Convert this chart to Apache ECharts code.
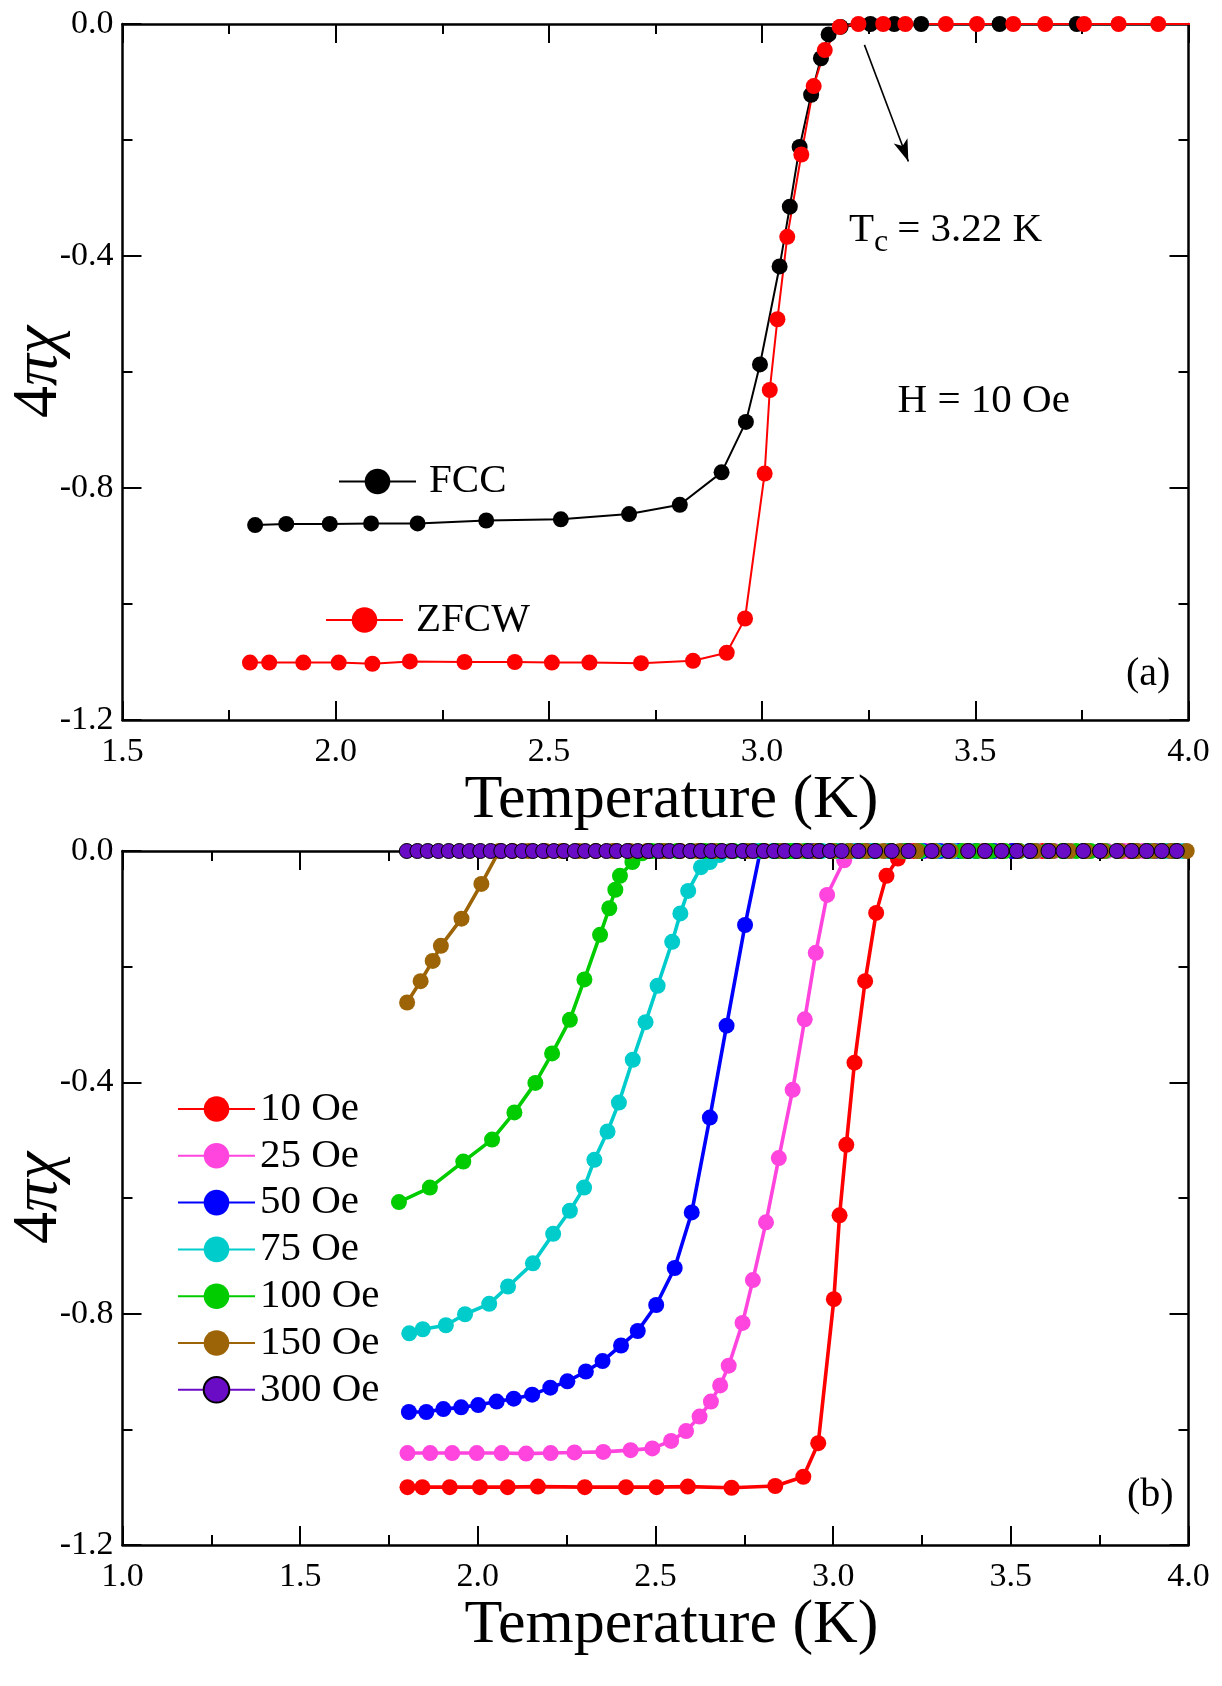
<!DOCTYPE html>
<html><head><meta charset="utf-8">
<script src="https://cdn.jsdelivr.net/npm/echarts@6/dist/echarts.min.js"></script>
<style>html,body{margin:0;padding:0;background:#fff}#c{width:1222px;height:1686px}</style>
</head><body><div id="c"></div><script>
// ---------------- DATA ----------------
// Panel (a): H = 10 Oe
const fcc = [[1.811,-0.864],[1.884,-0.862],[1.986,-0.862],[2.083,-0.861],[2.192,-0.861],[2.353,-0.856],[2.528,-0.854],[2.688,-0.845],[2.807,-0.829],[2.905,-0.773],[2.962,-0.686],[2.995,-0.587],[3.041,-0.418],[3.065,-0.315],[3.088,-0.212],[3.115,-0.122],[3.138,-0.059],[3.156,-0.018],[3.184,-0.005],[3.254,0],[3.310,0],[3.373,0],[3.557,0],[3.738,0]];
const zfcw = [[1.799,-1.101],[1.844,-1.101],[1.924,-1.101],[2.007,-1.101],[2.086,-1.103],[2.174,-1.099],[2.302,-1.100],[2.420,-1.100],[2.507,-1.101],[2.595,-1.101],[2.716,-1.102],[2.838,-1.098],[2.917,-1.084],[2.960,-1.025],[3.006,-0.775],[3.018,-0.631],[3.036,-0.509],[3.059,-0.367],[3.092,-0.225],[3.121,-0.107],[3.147,-0.045],[3.182,-0.005],[3.226,0],[3.284,0],[3.336,0],[3.431,0],[3.504,0],[3.589,0],[3.664,0],[3.755,0],[3.836,0],[3.929,0],[4.02,0]];
// Panel (b): ZFCW at several fields
const oe10 = [[1.802,-1.100],[1.844,-1.100],[1.921,-1.100],[2.006,-1.100],[2.084,-1.100],[2.169,-1.099],[2.301,-1.100],[2.417,-1.100],[2.503,-1.100],[2.591,-1.099],[2.714,-1.101],[2.837,-1.098],[2.916,-1.082],[2.958,-1.024],[3.002,-0.775],[3.018,-0.630],[3.037,-0.508],[3.060,-0.366],[3.090,-0.225],[3.121,-0.107],[3.150,-0.043],[3.182,-0.013],[3.226,0],[3.284,0],[3.336,0],[3.431,0],[3.504,0],[3.589,0],[3.664,0],[3.755,0],[3.836,0],[3.929,0],[4.02,0]];
const oe25 = [[1.802,-1.041],[1.866,-1.041],[1.928,-1.041],[1.997,-1.041],[2.067,-1.041],[2.136,-1.042],[2.205,-1.041],[2.272,-1.040],[2.353,-1.039],[2.430,-1.036],[2.491,-1.033],[2.544,-1.020],[2.586,-1.003],[2.624,-0.978],[2.656,-0.952],[2.682,-0.924],[2.706,-0.890],[2.745,-0.816],[2.774,-0.742],[2.811,-0.642],[2.847,-0.531],[2.886,-0.413],[2.920,-0.291],[2.951,-0.176],[2.983,-0.076],[3.031,-0.016],[3.066,0],[3.112,0],[3.160,0],[3.214,0],[3.262,0],[3.318,0],[3.366,0],[3.421,0],[3.468,0],[3.520,0],[3.571,0],[3.622,0],[3.668,0],[3.720,0],[3.771,0],[3.818,0],[3.872,0],[3.920,0],[3.970,0]];
const oe50 = [[1.806,-0.970],[1.855,-0.970],[1.903,-0.965],[1.953,-0.962],[2.001,-0.958],[2.053,-0.952],[2.101,-0.947],[2.153,-0.940],[2.204,-0.928],[2.252,-0.917],[2.304,-0.900],[2.351,-0.882],[2.403,-0.855],[2.450,-0.830],[2.502,-0.785],[2.554,-0.721],[2.602,-0.625],[2.653,-0.461],[2.700,-0.302],[2.752,-0.128],[2.795,0],[2.842,0],[2.893,0],[2.944,0],[2.996,0],[3.046,0],[3.097,0],[3.150,0],[3.199,0],[3.252,0],[3.300,0],[3.353,0],[3.402,0],[3.452,0],[3.505,0],[3.553,0],[3.604,0],[3.654,0],[3.705,0],[3.752,0],[3.806,0],[3.853,0],[3.905,0],[3.953,0]];
const oe75 = [[1.807,-0.834],[1.845,-0.827],[1.910,-0.820],[1.964,-0.801],[2.032,-0.783],[2.085,-0.753],[2.155,-0.713],[2.212,-0.662],[2.259,-0.622],[2.299,-0.582],[2.328,-0.534],[2.365,-0.485],[2.397,-0.435],[2.436,-0.361],[2.472,-0.296],[2.506,-0.233],[2.547,-0.157],[2.570,-0.108],[2.592,-0.069],[2.628,-0.028],[2.653,-0.019],[2.680,-0.007],[2.710,0],[2.745,0],[2.789,0],[2.830,0],[2.878,0],[2.920,0],[2.968,0],[3.012,0],[3.060,0],[3.108,0],[3.150,0],[3.198,0],[3.246,0],[3.290,0],[3.338,0],[3.384,0],[3.430,0],[3.478,0],[3.522,0],[3.570,0],[3.616,0],[3.662,0],[3.710,0],[3.755,0],[3.802,0],[3.848,0],[3.893,0],[3.940,0],[3.985,0]];
const oe100 = [[1.778,-0.607],[1.865,-0.582],[1.959,-0.537],[2.040,-0.499],[2.103,-0.452],[2.162,-0.401],[2.209,-0.350],[2.259,-0.292],[2.300,-0.222],[2.344,-0.145],[2.370,-0.099],[2.387,-0.067],[2.400,-0.043],[2.435,-0.019],[2.462,-0.004],[2.490,0],[2.523,0],[2.561,0],[2.600,0],[2.640,0],[2.680,0],[2.720,0],[2.760,0],[2.801,0],[2.842,0],[2.880,0],[2.922,0],[2.960,0],[3.002,0],[3.043,0],[3.083,0],[3.122,0],[3.163,0],[3.203,0],[3.243,0],[3.284,0],[3.323,0],[3.363,0],[3.404,0],[3.444,0],[3.483,0],[3.524,0],[3.563,0],[3.604,0],[3.645,0],[3.684,0],[3.724,0],[3.765,0],[3.804,0],[3.845,0],[3.884,0],[3.925,0],[3.964,0]];
const oe150 = [[1.801,-0.262],[1.839,-0.225],[1.873,-0.190],[1.896,-0.164],[1.954,-0.117],[2.010,-0.057],[2.060,0],[2.098,0],[2.142,0],[2.190,0],[2.236,0],[2.285,0],[2.332,0],[2.380,0],[2.428,0],[2.476,0],[2.523,0],[2.570,0],[2.618,0],[2.666,0],[2.713,0],[2.760,0],[2.808,0],[2.855,0],[2.903,0],[2.950,0],[2.998,0],[3.046,0],[3.093,0],[3.141,0],[3.188,0],[3.236,0],[3.284,0],[3.331,0],[3.379,0],[3.426,0],[3.474,0],[3.521,0],[3.569,0],[3.617,0],[3.664,0],[3.712,0],[3.759,0],[3.807,0],[3.854,0],[3.902,0],[3.950,0],[3.995,0]];
const oe300 = [[1.800,0],[1.830,0],[1.859,0],[1.889,0],[1.918,0],[1.948,0],[1.977,0],[2.007,0],[2.036,0],[2.066,0],[2.096,0],[2.125,0],[2.155,0],[2.184,0],[2.214,0],[2.243,0],[2.273,0],[2.302,0],[2.332,0],[2.362,0],[2.391,0],[2.421,0],[2.450,0],[2.480,0],[2.509,0],[2.539,0],[2.568,0],[2.598,0],[2.628,0],[2.657,0],[2.687,0],[2.716,0],[2.746,0],[2.775,0],[2.805,0],[2.834,0],[2.864,0],[2.897,0],[2.930,0],[2.961,0],[2.991,0],[3.024,0],[3.071,0],[3.118,0],[3.165,0],[3.212,0],[3.277,0],[3.324,0],[3.380,0],[3.427,0],[3.474,0],[3.517,0],[3.554,0],[3.606,0],[3.648,0],[3.704,0],[3.751,0],[3.798,0],[3.840,0],[3.882,0],[3.925,0],[3.967,0]];
const tcArrow = [[3.240,-0.036],[3.343,-0.237]];

const fieldNames = ['10 Oe','25 Oe','50 Oe','75 Oe','100 Oe','150 Oe','300 Oe'];
const fieldData = [oe10, oe25, oe50, oe75, oe100, oe150, oe300];
const fieldColors = ['#ff0000','#ff45dd','#0000ff','#00cccc','#00cc00','#9c6406','#6a0cc6'];

// ---------------- STYLE ----------------
const FONT = '"Liberation Serif","Times New Roman",serif';

function xAx(grid, min, pos) {
  const bottom = pos === 'bottom';
  return {
    type: 'value', gridIndex: grid, position: pos, min: min, max: 4.0, interval: 0.5,
    axisLine: {show: true, onZero: false, lineStyle: {color: '#000', width: 2.5}},
    axisTick: {show: true, inside: true, length: 19, lineStyle: {color: '#000', width: 2}},
    minorTick: {show: true, splitNumber: 2, length: 10, lineStyle: {color: '#000', width: 2}},
    splitLine: {show: false}, minorSplitLine: {show: false},
    axisLabel: {show: bottom, margin: 15, fontSize: 34, fontFamily: FONT, color: '#000',
      formatter: v => v.toFixed(1)},
    name: bottom ? 'Temperature (K)' : '', nameLocation: 'middle', nameGap: 43,
    nameTextStyle: {fontSize: 62, fontFamily: FONT, color: '#000', padding: [0, 0, 0, 32]}
  };
}
function yAx(grid, pos) {
  const left = pos === 'left';
  return {
    type: 'value', gridIndex: grid, position: pos, min: -1.2, max: 0, interval: 0.4,
    axisLine: {show: true, onZero: false, lineStyle: {color: '#000', width: 2.5}},
    axisTick: {show: true, inside: true, length: 19, lineStyle: {color: '#000', width: 2}},
    minorTick: {show: true, splitNumber: 2, length: 10, lineStyle: {color: '#000', width: 2}},
    splitLine: {show: false}, minorSplitLine: {show: false},
    axisLabel: {show: left, margin: 9, fontSize: 34, fontFamily: FONT, color: '#000',
      formatter: v => v.toFixed(1)},
    name: left ? '{n|4}{g|πχ}' : '', nameLocation: 'middle', nameGap: 51, nameMoveOverlap: false,
    nameTextStyle: {fontSize: 64, fontFamily: FONT, color: '#000', fontStyle: 'normal',
      rich: {n: {fontSize: 64, fontFamily: FONT, color: '#000', fontStyle: 'normal'},
             g: {fontSize: 64, fontFamily: FONT, color: '#000', fontStyle: 'italic'}}}
  };
}
function lineSeries(name, data, color, xi, yi, size, lw, border) {
  return {
    name: name, type: 'line', xAxisIndex: xi, yAxisIndex: yi, data: data,
    symbol: 'circle', symbolSize: size, showSymbol: true, clip: true,
    lineStyle: {color: color, width: lw},
    itemStyle: {color: color, borderColor: border || color, borderWidth: border ? 1 : 0},
    emphasis: {disabled: true}, animation: false
  };
}

const series = [];
const sFcc = lineSeries('FCC', fcc, '#000000', 0, 0, 16, 2);
sFcc.markLine = {
  silent: true, symbol: ['none', 'arrow'], symbolSize: [11, 22], animation: false,
  lineStyle: {color: '#000', width: 1.6, type: 'solid'}, label: {show: false},
  data: [[{coord: tcArrow[0]}, {coord: tcArrow[1]}]]
};
series.push(sFcc);
series.push(lineSeries('ZFCW', zfcw, '#ff0000', 0, 0, 16, 2));
fieldNames.forEach((n, i) => {
  series.push(lineSeries(n, fieldData[i], fieldColors[i], 2, 2, i === 6 ? 15 : 16, 3.6, i === 6 ? '#000' : null));
});

const legendText = (pad) => ({fontSize: 41, fontFamily: FONT, color: '#000', padding: [0, 0, 0, pad]});

const option = {
  backgroundColor: '#fff',
  animation: false,
  grid: [
    {left: 122.5, top: 24, width: 1066, height: 696, containLabel: false, outerBoundsMode: 'none'},
    {left: 122.5, top: 851, width: 1066, height: 694, containLabel: false, outerBoundsMode: 'none'}
  ],
  xAxis: [xAx(0, 1.5, 'bottom'), xAx(0, 1.5, 'top'), xAx(1, 1.0, 'bottom'), xAx(1, 1.0, 'top')],
  yAxis: [yAx(0, 'left'), yAx(0, 'right'), yAx(1, 'left'), yAx(1, 'right')],
  legend: [
    {data: ['FCC'], left: 338, top: 461, orient: 'vertical', padding: 0, itemWidth: 77, itemHeight: 32,
     selectedMode: false, textStyle: legendText(8)},
    {data: ['ZFCW'], left: 325, top: 599.5, orient: 'vertical', padding: 0, itemWidth: 77, itemHeight: 32,
     selectedMode: false, textStyle: legendText(8)},
    {data: fieldNames, left: 177, top: 1088.5, orient: 'vertical', padding: 0, itemWidth: 77, itemHeight: 32,
     itemGap: 5.8, selectedMode: false, textStyle: legendText(0)}
  ],
  graphic: [
    {type: 'text', x: 849, y: 230, style: {text: 'T', fontSize: 41, fontFamily: FONT, fill: '#000', verticalAlign: 'middle', textVerticalAlign: 'middle'}},
    {type: 'text', x: 874, y: 243, style: {text: 'c', fontSize: 32, fontFamily: FONT, fill: '#000', verticalAlign: 'middle', textVerticalAlign: 'middle'}},
    {type: 'text', x: 887, y: 230, style: {text: ' = 3.22 K', fontSize: 41, fontFamily: FONT, fill: '#000', verticalAlign: 'middle', textVerticalAlign: 'middle'}},
    {type: 'text', x: 897.6, y: 401, style: {text: 'H = 10 Oe', fontSize: 41, fontFamily: FONT, fill: '#000', verticalAlign: 'middle', textVerticalAlign: 'middle'}},
    {type: 'text', x: 1126, y: 674, style: {text: '(a)', fontSize: 40, fontFamily: FONT, fill: '#000', verticalAlign: 'middle', textVerticalAlign: 'middle'}},
    {type: 'text', x: 1127, y: 1495, style: {text: '(b)', fontSize: 40, fontFamily: FONT, fill: '#000', verticalAlign: 'middle', textVerticalAlign: 'middle'}}
  ],
  series: series
};

const chart = echarts.init(document.getElementById('c'), null, {renderer: 'canvas'});
chart.setOption(option);
</script></body></html>
